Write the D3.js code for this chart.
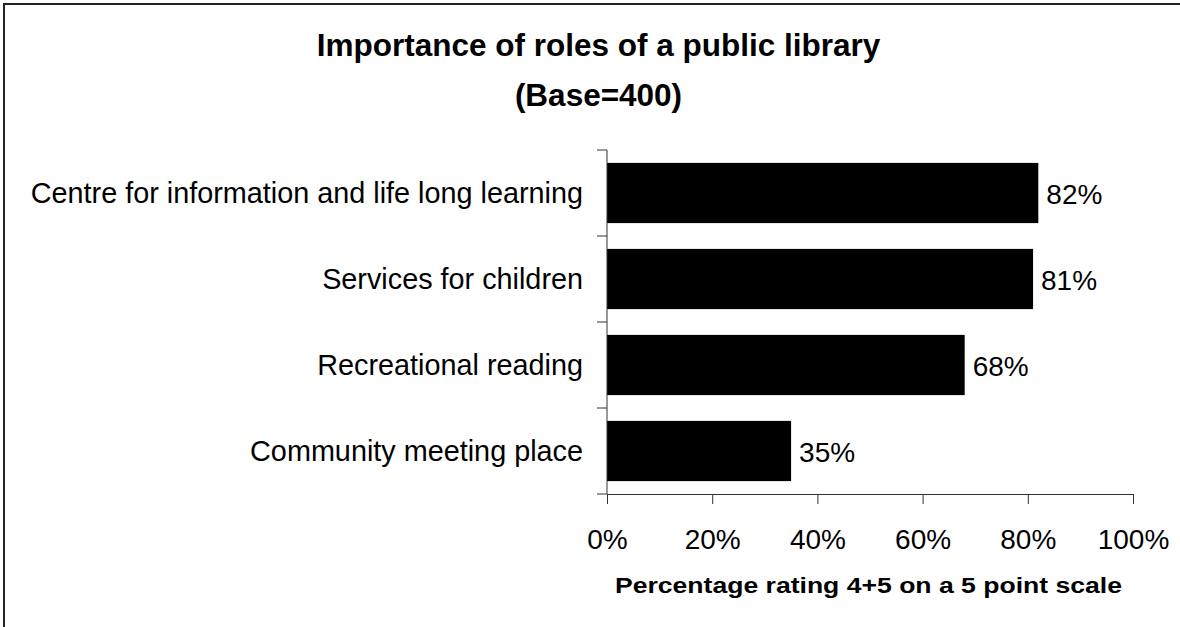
<!DOCTYPE html>
<html>
<head>
<meta charset="utf-8">
<script src="https://cdn.jsdelivr.net/npm/d3@7"></script>
<style>
  html, body { margin: 0; padding: 0; background: #fff; }
  svg { display: block; font-family: "Liberation Sans", Arial, sans-serif; }
</style>
</head>
<body>
<svg id="chart" width="1180" height="627"></svg>
<script>
// Survey results: share of respondents rating each role 4 or 5
const categories = [
  "Centre for information and life long learning",
  "Services for children",
  "Recreational reading",
  "Community meeting place"
];
const values = [82, 81, 68, 35];
const xTicks = [0, 20, 40, 60, 80, 100];
const titleLines = ["Importance of roles of a public library", "(Base=400)"];
const xAxisTitle = "Percentage rating 4+5 on a 5 point scale";

const svg = d3.select("#chart");
const W = 1180, H = 627;

// Frame around the chart area
svg.append("rect")
  .attr("x", 4).attr("y", 4)
  .attr("width", W + 20).attr("height", H + 20)
  .attr("fill", "#fff")
  .attr("stroke", "#222")
  .attr("stroke-width", 2);

const plot = { left: 607, right: 1133, top: 150, bottom: 494 };

const x = d3.scaleLinear().domain([0, 100]).range([plot.left, plot.right]);
const y = d3.scaleBand()
  .domain(categories)
  .range([plot.top, plot.bottom])
  .paddingInner(0.3)
  .paddingOuter(0.15);

// Title
const title = svg.append("text")
  .attr("text-anchor", "middle")
  .attr("font-weight", "bold")
  .attr("font-size", 31.5)
  .attr("fill", "#000");
titleLines.forEach((t, i) => {
  title.append("tspan")
    .attr("x", 598.5)
    .attr("y", 56 + i * 50)
    .text(t);
});

// Bars
svg.append("g").selectAll("rect")
  .data(values)
  .join("rect")
  .attr("x", x(0))
  .attr("y", (d, i) => y(categories[i]))
  .attr("width", d => x(d) - x(0))
  .attr("height", y.bandwidth())
  .attr("fill", "#000");

// Value labels
svg.append("g").selectAll("text")
  .data(values)
  .join("text")
  .attr("x", d => x(d) + 8)
  .attr("y", (d, i) => y(categories[i]) + y.bandwidth() / 2)
  .attr("dy", "0.38em")
  .attr("font-size", 28)
  .attr("fill", "#000")
  .text(d => d + "%");

// Bottom axis
const xAxis = d3.axisBottom(x)
  .tickValues(xTicks)
  .tickFormat(d => d + "%")
  .tickSize(10)
  .tickPadding(25)
  .tickSizeOuter(0);
const gx = svg.append("g")
  .attr("transform", `translate(0,${plot.bottom})`)
  .call(xAxis);
gx.select(".domain").attr("stroke", "#333");
gx.selectAll(".tick line").attr("stroke", "#333");
gx.selectAll(".tick text")
  .attr("font-size", 28)
  .attr("font-family", "Liberation Sans, Arial, sans-serif")
  .attr("fill", "#000");

// Left axis: line with ticks between categories
const step = y.step();
const boundaries = categories.map(c => y(c) - step * y.paddingInner() / 2)
  .concat([plot.bottom]);
const gy = svg.append("g");
gy.append("line")
  .attr("x1", plot.left).attr("x2", plot.left)
  .attr("y1", plot.top).attr("y2", plot.bottom)
  .attr("stroke", "#333");
gy.selectAll("line.tick")
  .data(boundaries)
  .join("line")
  .attr("class", "tick")
  .attr("x1", plot.left - 10).attr("x2", plot.left)
  .attr("y1", d => d).attr("y2", d => d)
  .attr("stroke", "#333");

// Category labels
svg.append("g").selectAll("text")
  .data(categories)
  .join("text")
  .attr("x", plot.left - 24)
  .attr("y", d => y(d) + y.bandwidth() / 2)
  .attr("dy", "0.36em")
  .attr("text-anchor", "end")
  .attr("font-size", 28.8)
  .attr("fill", "#000")
  .text(d => d);

// Axis title, slightly widened bold text
svg.append("text")
  .attr("x", 868.5)
  .attr("y", 593)
  .attr("text-anchor", "middle")
  .attr("font-weight", "bold")
  .attr("font-size", 21.5)
  .attr("textLength", 507)
  .attr("lengthAdjust", "spacingAndGlyphs")
  .attr("fill", "#000")
  .text(xAxisTitle);
</script>
</body>
</html>
